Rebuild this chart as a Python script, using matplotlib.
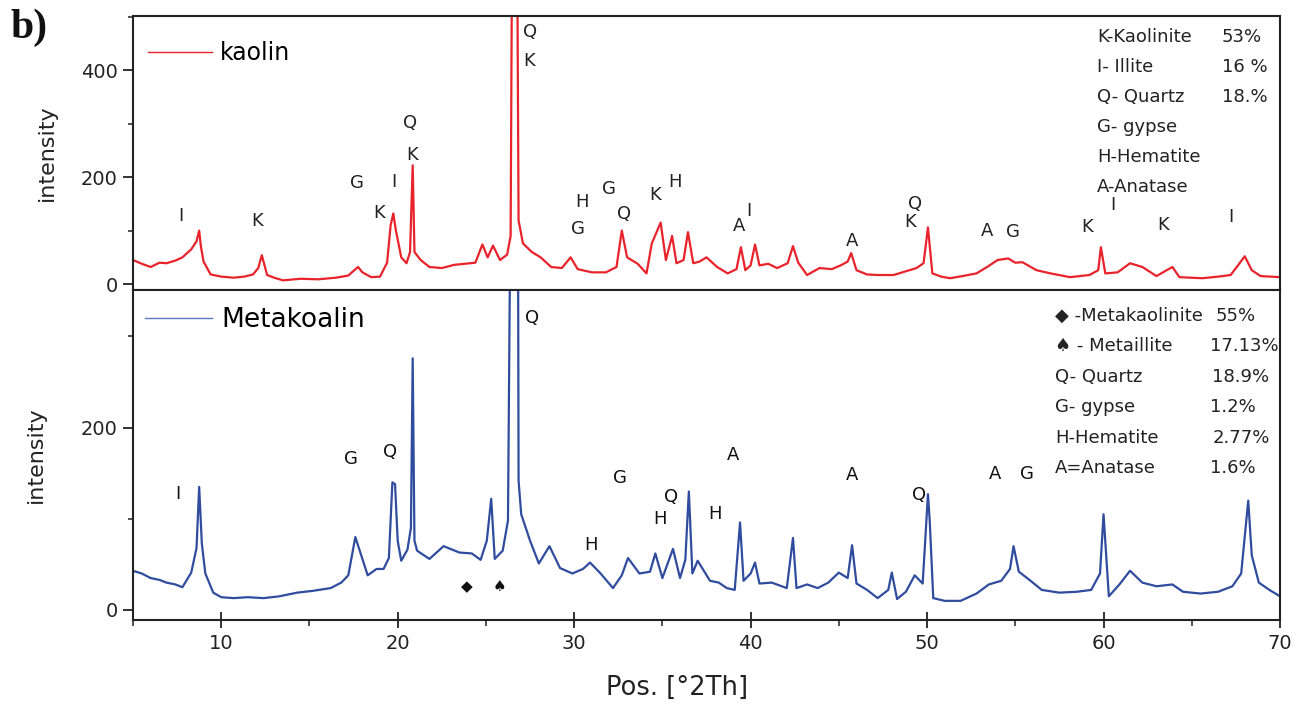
import matplotlib
matplotlib.use("Agg")
import matplotlib.pyplot as plt
from matplotlib.ticker import MultipleLocator

plt.rcParams["font.family"] = ["DejaVu Sans"]

# ---- XRD patterns (2theta in degrees, intensity in counts) ----
kaolin_2th = [
    5.0, 5.5, 6.0, 6.5, 6.9, 7.4, 7.8, 8.3, 8.6, 8.75, 8.85, 9.0, 9.4, 10.0, 10.7,
    11.3, 11.8, 12.1, 12.3, 12.6, 13.0, 13.5, 14.5, 15.5, 16.5, 17.2, 17.75, 18.0,
    18.5, 19.0, 19.4, 19.6, 19.75, 19.9, 20.2, 20.5, 20.7, 20.85, 20.95, 21.3, 21.8,
    22.5, 23.2, 23.8, 24.4, 24.8, 25.1, 25.4, 25.8, 26.2, 26.4, 26.55, 26.7, 26.85,
    27.1, 27.6, 28.1, 28.7, 29.3, 29.8, 30.2, 31.0, 31.8, 32.4, 32.7, 33.0, 33.6,
    34.1, 34.4, 34.9, 35.2, 35.55, 35.8, 36.2, 36.45, 36.75, 37.1, 37.5, 38.1, 38.7,
    39.2, 39.45, 39.7, 40.0, 40.25, 40.5, 41.0, 41.5, 42.1, 42.4, 42.7, 43.2, 43.9,
    44.6, 45.1, 45.5, 45.7, 46.0, 46.6, 47.2, 48.1, 48.8, 49.4, 49.8, 50.05, 50.3,
    50.8, 51.3, 52.0, 52.8, 53.4, 54.0, 54.6, 55.0, 55.4, 56.2, 57.0, 58.1, 59.2,
    59.7, 59.85, 60.1, 60.8, 61.5, 62.2, 63.0, 63.9, 64.3, 65.0, 65.6, 66.5, 67.2,
    67.55, 68.0, 68.4, 68.9, 69.4, 70.0,
]
kaolin_int = [
    45, 38, 32, 40, 39, 44, 50, 65, 80, 100, 70, 42, 18, 14, 12,
    14, 18, 30, 54, 17, 12, 7, 10, 9, 12, 16, 32, 22,
    13, 14, 40, 110, 132, 100, 50, 39, 60, 222, 60, 45, 32,
    30, 36, 38, 40, 74, 50, 72, 45, 55, 90, 1100, 1100, 119,
    76, 60, 50, 32, 30, 50, 28, 22, 22, 32, 100, 50, 38,
    20, 76, 115, 45, 90, 39, 45, 97, 39, 42, 50, 32, 20,
    28, 69, 26, 35, 74, 35, 38, 30, 39, 71, 40, 17, 30,
    28, 35, 42, 58, 26, 18, 17, 17, 24, 30, 39, 106, 20,
    14, 11, 15, 20, 32, 45, 48, 40, 41, 26, 20, 13, 17,
    26, 69, 20, 22, 39, 32, 15, 32, 13, 12, 11, 14, 17,
    32, 52, 26, 15, 14, 13,
]

meta_2th = [
    5.0, 5.5, 6.0, 6.5, 6.9, 7.4, 7.8, 8.3, 8.6, 8.75, 8.9, 9.1, 9.55, 10.0, 10.7,
    11.5, 12.4, 13.3, 14.3, 15.2, 16.2, 16.8, 17.2, 17.6, 17.9, 18.3, 18.8, 19.2,
    19.5, 19.7, 19.85, 20.0, 20.2, 20.55, 20.75, 20.85, 20.95, 21.1, 21.8, 22.6,
    23.5, 24.2, 24.7, 25.05, 25.3, 25.5, 25.95, 26.25, 26.45, 26.8, 26.85, 27.0,
    27.5, 28.0, 28.6, 29.2, 29.9, 30.5, 30.9, 31.5, 32.2, 32.7, 33.05, 33.7, 34.3,
    34.6, 35.0, 35.6, 36.0, 36.3, 36.5, 36.7, 37.0, 37.7, 38.2, 38.65, 39.1, 39.4,
    39.6, 40.0, 40.25, 40.5, 41.2, 42.05, 42.4, 42.6, 43.2, 43.8, 44.4, 45.0, 45.5,
    45.75, 46.0, 46.6, 47.2, 47.8, 48.0, 48.3, 48.8, 49.3, 49.75, 50.05, 50.15,
    50.35, 51.0, 51.9, 52.8, 53.5, 54.2, 54.7, 54.9, 55.2, 55.8, 56.5, 57.5, 58.5,
    59.3, 59.8, 60.0, 60.3, 60.9, 61.5, 62.2, 63.0, 63.9, 64.5, 65.5, 66.5, 67.3,
    67.8, 68.05, 68.2, 68.4, 68.8, 69.4, 70.0,
]
meta_int = [
    43, 40, 35, 33, 30, 28, 25, 41, 68, 135, 73, 40, 19, 14, 13,
    14, 13, 15, 19, 21, 24, 30, 38, 80, 62, 38, 45, 45,
    57, 140, 138, 76, 54, 66, 90, 276, 76, 65, 56, 70,
    63, 62, 55, 76, 122, 56, 65, 98, 600, 600, 142, 105,
    76, 51, 70, 46, 40, 45, 52, 40, 24, 38, 57, 40, 42,
    62, 35, 67, 35, 55, 130, 40, 54, 32, 30, 24, 22, 96,
    32, 40, 52, 29, 30, 24, 79, 24, 28, 24, 30, 41, 35,
    71, 29, 22, 13, 22, 41, 12, 20, 38, 29, 127, 98,
    13, 10, 10, 18, 28, 32, 45, 70, 42, 33, 22, 19, 20,
    22, 40, 105, 15, 28, 43, 30, 26, 28, 20, 18, 20, 26,
    40, 90, 120, 60, 30, 22, 15,
]

# phase letters placed above the peaks: (2theta, intensity, letter)
kaolin_marks = [
    (7.72, 127, "I"), (12.03, 118, "K"), (17.69, 189, "G"), (19.79, 191, "I"),
    (18.94, 133, "K"), (20.7, 301, "Q"), (20.81, 241, "K"), (27.5, 471, "Q"),
    (27.44, 417, "K"), (30.44, 153, "H"), (31.97, 178, "G"), (30.22, 103, "G"),
    (32.83, 131, "Q"), (34.58, 166, "K"), (35.72, 191, "H"), (39.34, 108, "A"),
    (39.9, 136, "I"), (45.75, 80, "A"), (49.32, 150, "Q"), (49.03, 116, "K"),
    (53.4, 99, "A"), (54.87, 97, "G"), (59.06, 107, "K"), (60.54, 148, "I"),
    (63.37, 110, "K"), (67.22, 125, "I"),
]
meta_marks = [
    (7.55, 127, "I"), (17.35, 166, "G"), (19.56, 173, "Q"), (27.61, 320, "Q"),
    (30.95, 71, "H"), (32.6, 145, "G"), (35.49, 124, "Q"), (34.87, 100, "H"),
    (37.98, 105, "H"), (39.0, 170, "A"), (45.75, 148, "A"), (49.54, 126, "Q"),
    (53.85, 149, "A"), (55.66, 149, "G"),
    (23.93, 26, "\u25C6"), (25.74, 26, "\u2660"),
]

# phase composition tables
kaolin_phases = ["K-Kaolinite", "I- Illite", "Q- Quartz", "G- gypse", "H-Hematite", "A-Anatase"]
kaolin_pct = ["53%", "16 %", "18.%", "", "", ""]
meta_phases = ["\u25C6 -Metakaolinite", "\u2660 - Metaillite", "Q- Quartz",
               "G- gypse", "H-Hematite", "A=Anatase"]
meta_pct = ["55%", "17.13%", "18.9%", "1.2%", "2.77%", "1.6%"]

RED = "#e8232b"
BLUE = "#2f4c9f"
INK = "#222222"

W, H = 1302, 707
fig = plt.figure(figsize=(W / 100, H / 100), dpi=100)
ax1 = fig.add_axes([133 / W, 1 - 290 / H, 1147 / W, 274 / H])
ax2 = fig.add_axes([133 / W, 1 - 620 / H, 1147 / W, 330 / H])

ax1.plot(kaolin_2th, kaolin_int, color=RED, lw=1.6, label="kaolin")
ax2.plot(meta_2th, meta_int, color=BLUE, lw=1.6, label="Metakoalin")

ax1.set_ylim(-11, 501)
ax2.set_ylim(-11, 351)
for ax in (ax1, ax2):
    ax.set_xlim(5, 70)
    for s in ax.spines.values():
        s.set_linewidth(1.5)
        s.set_color(INK)
    ax.yaxis.set_major_locator(MultipleLocator(200))
    ax.yaxis.set_minor_locator(MultipleLocator(100))
    ax.tick_params(axis="y", which="major", direction="out", length=7, width=1.3,
                   labelsize=14, pad=4, colors=INK)
    ax.tick_params(axis="y", which="minor", direction="out", length=3.5, width=1.1, colors=INK)
    ax.set_ylabel("intensity", fontsize=16, color=INK)

ax1.tick_params(axis="x", which="both", bottom=False, labelbottom=False)
ax2.xaxis.set_major_locator(MultipleLocator(10))
ax2.xaxis.set_minor_locator(MultipleLocator(5))
ax2.tick_params(axis="x", which="major", direction="inout", length=12, width=1.3,
                labelsize=14, pad=4, colors=INK)
ax2.tick_params(axis="x", which="minor", direction="out", length=4, width=1.1, colors=INK)

ax1.yaxis.set_label_coords(-0.066, 0.5)
ax2.yaxis.set_label_coords(-0.076, 0.5)

for x, y, s in kaolin_marks:
    ax1.text(x, y, s, ha="center", va="center", fontsize=13, color=INK)
for x, y, s in meta_marks:
    ax2.text(x, y, s, ha="center", va="center", fontsize=13 if s.isalpha() else 11,
             color="#111111")

# composition lists, right hand side of each panel
for i, (name, pct) in enumerate(zip(kaolin_phases, kaolin_pct)):
    yy = (290 - 37 - 30 * i) / 274
    ax1.text((1097 - 133) / 1147, yy, name, transform=ax1.transAxes,
             ha="left", va="center", fontsize=13, color=INK)
    ax1.text((1222 - 133) / 1147, yy, pct, transform=ax1.transAxes,
             ha="left", va="center", fontsize=13, color=INK)

meta_pct_x = [1216, 1210, 1212, 1210, 1213, 1210]
for i, (name, pct) in enumerate(zip(meta_phases, meta_pct)):
    yy = (620 - 316 - 30.4 * i) / 330
    ax2.text((1055 - 133) / 1147, yy, name, transform=ax2.transAxes,
             ha="left", va="center", fontsize=13, color=INK)
    ax2.text((meta_pct_x[i] - 133) / 1147, yy, pct, transform=ax2.transAxes,
             ha="left", va="center", fontsize=13, color=INK, clip_on=False)

leg1 = ax1.legend(loc="center left", bbox_to_anchor=(0.013, 0.865), frameon=False,
                  fontsize=17, handlelength=2.7, handletextpad=0.34,
                  borderpad=0, borderaxespad=0)
leg1.get_lines()[0].set_linewidth(1.0)
leg2 = ax2.legend(loc="center left", bbox_to_anchor=(0.0105, 0.909), frameon=False,
                  fontsize=19, handlelength=2.55, handletextpad=0.36,
                  borderpad=0, borderaxespad=0)
leg2.get_lines()[0].set_linewidth(1.0)
leg2.get_lines()[0].set_color("#5a77c2")

fig.text(677 / W, 1 - 688 / H, "Pos. [\u00b02Th]", ha="center", va="center",
         fontsize=18.5, color=INK)
fig.text(10 / W, 1 - 28 / H, "b)", ha="left", va="center", fontsize=30,
         fontweight="bold", family="Liberation Serif", color="#111111")

fig.savefig("out.png", dpi=100)
